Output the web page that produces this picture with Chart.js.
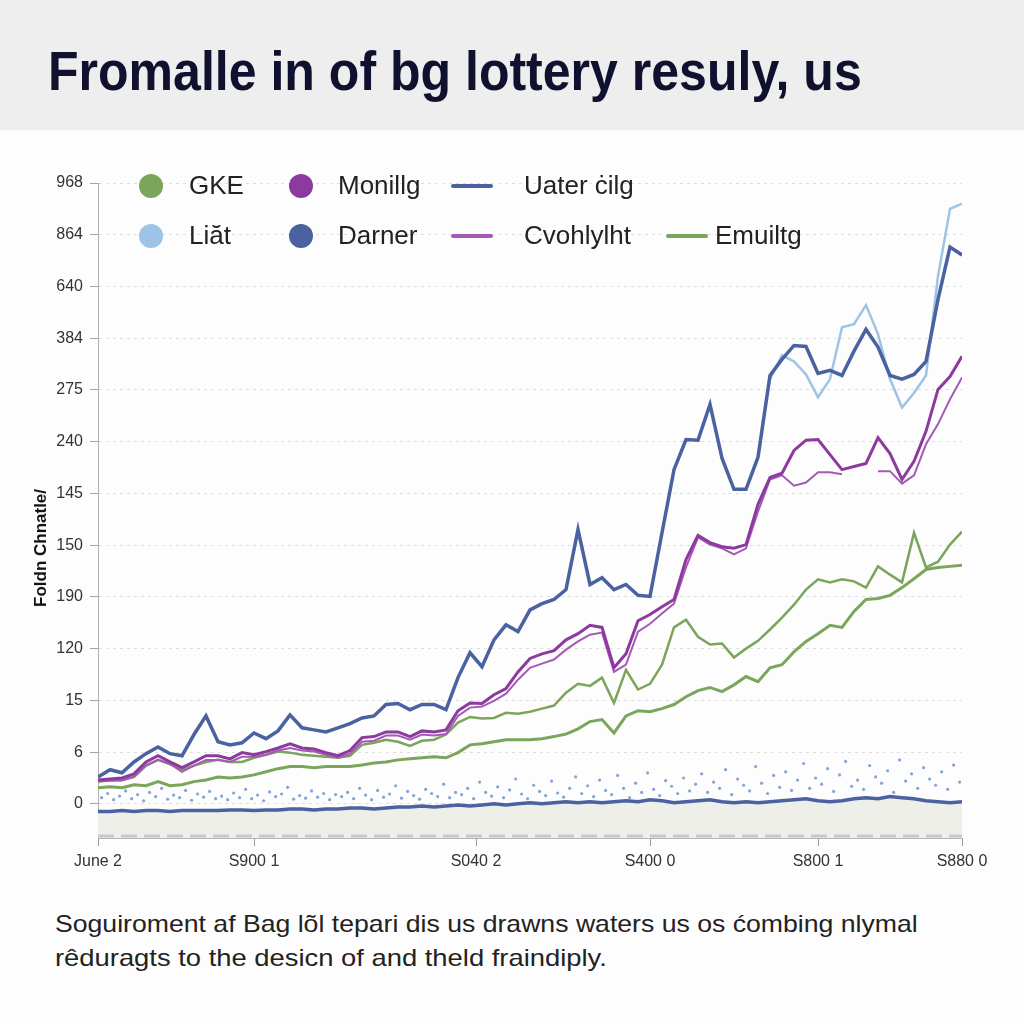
<!DOCTYPE html>
<html>
<head>
<meta charset="utf-8">
<script src="https://cdn.jsdelivr.net/npm/chart.js@4.4.0/dist/chart.umd.min.js"></script>
<style>
  body { margin: 0; width: 1024px; height: 1024px; background: #fdfdfd; position: relative; overflow: hidden;
         font-family: "Liberation Sans", Arial, sans-serif; }
  #band { position: absolute; left: 0; top: 0; width: 1024px; height: 130px; background: #eeeeee; }
  .fit { position: absolute; margin: 0; white-space: nowrap; display: inline-block; transform-origin: 0 0; line-height: 1; }
  #title { left: 48px; top: 43px; font-size: 56px; font-weight: 700; color: #10112e; }
  #foot1 { left: 55px; top: 912px; font-size: 24px; color: #222; }
  #foot2 { left: 55px; top: 946px; font-size: 24px; color: #222; }
  #chartBox { position: absolute; left: 0; top: 140px; width: 1024px; height: 740px; }
  #ytitle { position: absolute; left: 41px; top: 548px; transform: translate(-50%, -50%) rotate(-90deg);
            font-size: 17px; font-weight: 700; color: #111; white-space: nowrap; }
  .lg { position: absolute; font-size: 26px; color: #222; line-height: 1; white-space: nowrap; }
  .mk { position: absolute; }
</style>
</head>
<body>
<div id="band"></div>
<h1 id="title" class="fit">Fromalle in of bg lottery resuly, us</h1>
<div id="chartBox"><canvas id="chart" width="1024" height="740"></canvas></div>
<div id="ytitle">Foldn Chnatle/</div>
<div id="legend"></div>
<p id="foot1" class="fit">Soguiroment af Bag lõl tepari dis us drawns waters us os ćombing nlymal</p>
<p id="foot2" class="fit">rêduragts to the desicn of and theld fraindiply.</p>

<script>
// y axis tick labels (as printed, bottom to top)
const yTickLabels = ["0", "6", "15", "120", "190", "150", "145", "240", "275", "384", "640", "864", "968"];
// x axis tick labels and where they sit on the step axis
const xTickLabels = ["June 2", "S900 1", "S040 2", "S400 0", "S800 1", "S880 0"];
const xTickPos = [0, 13, 31.5, 46, 60, 72];

// series, one value per step (0..72), in axis units
const darner = [0.52,0.66,0.60,0.81,0.97,1.10,0.97,0.93,1.34,1.70,
  1.20,1.14,1.18,1.37,1.26,1.41,1.72,1.47,1.43,1.39,
  1.47,1.55,1.66,1.70,1.92,1.94,1.82,1.92,1.92,1.82,
  2.44,2.92,2.65,3.17,3.46,3.33,3.75,3.87,3.95,4.14,
  5.30,4.24,4.37,4.14,4.24,4.03,4.01,5.24,6.46,7.04,
  7.03,7.72,6.68,6.08,6.08,6.70,8.28,8.59,8.86,8.84,
  8.32,8.38,8.28,8.75,9.17,8.83,8.28,8.21,8.30,8.55,
  9.75,10.76,10.61];

const liatStart = 56;
const liat = [8.21,8.67,8.55,8.30,7.86,8.21,9.21,9.27,9.64,9.08,8.21,7.66,7.94,8.28,10.2,11.5,11.6];

const monillg = [0.46,0.48,0.50,0.58,0.81,0.93,0.81,0.70,0.81,0.93,
  0.93,0.87,0.99,0.95,1.01,1.08,1.16,1.08,1.06,0.99,
  0.93,1.03,1.28,1.30,1.39,1.39,1.30,1.41,1.39,1.43,
  1.80,1.95,1.94,2.11,2.23,2.55,2.81,2.90,2.96,3.17,
  3.29,3.45,3.41,2.63,2.90,3.54,3.66,3.81,3.95,4.72,
  5.19,5.05,4.97,4.94,5.01,5.79,6.31,6.39,6.83,7.03,
  7.04,6.75,6.46,6.52,6.58,7.08,6.77,6.27,6.62,7.20,
  8.01,8.26,8.65];

const cvohlylht = [0.43,0.45,0.45,0.52,0.74,0.85,0.77,0.62,0.74,0.85,
  0.85,0.81,0.91,0.91,0.95,1.03,1.08,1.03,1.01,0.95,
  0.89,0.97,1.20,1.22,1.32,1.32,1.24,1.34,1.32,1.35,
  1.70,1.86,1.88,1.99,2.13,2.40,2.63,2.71,2.79,2.98,
  3.14,3.27,3.31,2.55,2.69,3.33,3.48,3.68,3.87,4.57,
  5.15,5.01,4.94,4.82,4.94,5.65,6.27,6.35,6.15,6.21,
  6.41,6.41,6.37,null,null,6.43,6.43,6.19,6.35,6.95,
  7.34,7.82,8.24];

const gke = [0.43,0.45,0.46,0.52,0.74,0.85,0.77,0.66,0.74,0.81,
  0.85,0.81,0.81,0.89,0.95,1.01,0.99,0.95,0.93,0.91,
  0.89,0.93,1.14,1.18,1.24,1.20,1.12,1.22,1.24,1.34,
  1.57,1.68,1.65,1.66,1.76,1.74,1.78,1.84,1.90,2.15,
  2.32,2.28,2.44,1.95,2.59,2.21,2.32,2.69,3.41,3.56,
  3.23,3.08,3.10,2.83,3.00,3.15,3.37,3.60,3.85,4.14,
  4.34,4.28,4.34,4.30,4.18,4.59,4.43,4.28,5.24,4.57,
  4.68,5.01,5.26];

const emuiltg = [0.31,0.33,0.31,0.37,0.35,0.43,0.35,0.37,0.43,0.46,
  0.52,0.50,0.52,0.56,0.62,0.68,0.72,0.72,0.70,0.72,
  0.72,0.72,0.75,0.79,0.81,0.85,0.87,0.89,0.91,0.89,
  0.99,1.14,1.16,1.20,1.24,1.24,1.24,1.26,1.30,1.35,
  1.45,1.59,1.63,1.37,1.70,1.80,1.78,1.84,1.92,2.07,
  2.19,2.25,2.17,2.30,2.46,2.36,2.63,2.69,2.94,3.14,
  3.29,3.45,3.41,3.72,3.95,3.97,4.03,4.18,4.35,4.53,
  4.57,4.59,4.61];

const uater = [-0.15,-0.15,-0.13,-0.15,-0.13,-0.13,-0.15,-0.13,-0.13,
  -0.13,-0.13,-0.12,-0.12,-0.13,-0.12,-0.12,-0.10,-0.10,-0.12,-0.10,-0.10,
  -0.08,-0.08,-0.10,-0.08,-0.06,-0.06,-0.04,-0.06,-0.04,-0.02,-0.04,-0.02,
  0,-0.02,0,0.02,0,0.02,0.04,0.02,0.04,0.02,0.04,0.06,
  0.04,0.08,0.06,0.02,0.04,0.06,0.08,0.04,0.02,0.04,0.02,0.04,
  0.06,0.08,0.10,0.06,0.04,0.06,0.10,0.12,0.10,0.14,0.12,0.10,0.06,0.04,0.02,0.04];

// scattered light blue dots above the bottom line, one every half step from 0.3
const dotStart = 0.3;
const dots = [0.12,0.2,0.08,0.15,0.25,0.1,0.18,0.06,0.22,0.14,0.3,0.09,0.17,0.12,0.26,0.07,0.19,0.13,0.24,0.1,
  0.15,0.08,0.21,0.12,0.28,0.1,0.17,0.06,0.23,0.14,0.19,0.32,0.09,0.16,0.11,0.25,0.13,0.2,0.08,0.18,
  0.14,0.22,0.1,0.3,0.17,0.08,0.26,0.13,0.19,0.35,0.11,0.24,0.16,0.09,0.28,0.2,0.14,0.38,0.12,0.22,
  0.18,0.3,0.1,0.42,0.22,0.15,0.33,0.12,0.27,0.48,0.19,0.1,0.36,0.24,0.16,0.44,0.21,0.13,0.3,0.52,
  0.2,0.35,0.14,0.46,0.26,0.18,0.55,0.3,0.12,0.4,0.22,0.6,0.28,0.16,0.45,0.34,0.2,0.5,0.25,0.38,
  0.58,0.22,0.42,0.3,0.66,0.18,0.48,0.36,0.25,0.72,0.4,0.2,0.55,0.32,0.62,0.26,0.46,0.78,0.3,0.5,
  0.38,0.68,0.24,0.56,0.82,0.34,0.46,0.28,0.74,0.52,0.4,0.64,0.22,0.85,0.44,0.58,0.3,0.7,0.48,0.36,
  0.62,0.28,0.75,0.42];

const colors = {
  green: "#7aa55a",
  purple: "#8c3a9d",
  thinPurple: "#a45bb5",
  darkBlue: "#4a62a0",
  lightBlue: "#9dc4e6",
  dots: "rgba(110, 150, 205, 0.85)"
};

// legend: label, colour, marker type
const legendItems = [
  { label: "GKE", color: colors.green, type: "circle" },
  { label: "Monillg", color: colors.purple, type: "circle" },
  { label: "Uater ċilg", color: colors.darkBlue, type: "line" },
  { label: "Liăt", color: colors.lightBlue, type: "circle" },
  { label: "Darner", color: colors.darkBlue, type: "circle" },
  { label: "Cvohlylht", color: colors.thinPurple, type: "line" },
  { label: "Emuiltg", color: colors.green, type: "line" }
];
// marker left / text left / row centre, in page pixels
const legendLayout = [
  [139, 189, 186], [289, 338, 186], [451, 524, 186],
  [139, 189, 236], [289, 338, 236], [451, 524, 236], [666, 715, 236]
];

function toPoints(values, start) {
  return values.map((v, i) => ({ x: start + i, y: v }));
}

function buildLegend() {
  const box = document.getElementById("legend");
  legendItems.forEach((item, i) => {
    const [mx, tx, cy] = legendLayout[i];
    const mk = document.createElement("div");
    mk.className = "mk";
    if (item.type === "circle") {
      mk.style.cssText = `left:${mx}px;top:${cy - 12}px;width:24px;height:24px;border-radius:50%;background:${item.color}`;
    } else {
      mk.style.cssText = `left:${mx}px;top:${cy - 2}px;width:42px;height:4px;border-radius:2px;background:${item.color}`;
    }
    box.appendChild(mk);
    const tx_ = document.createElement("div");
    tx_.className = "lg";
    tx_.textContent = item.label;
    tx_.style.left = tx + "px";
    tx_.style.top = (cy - 14) + "px";
    box.appendChild(tx_);
  });
}

function fitWidth(id, target) {
  const el = document.getElementById(id);
  const w = el.scrollWidth;
  el.style.transform = `scaleX(${target / w})`;
}

// dashed band along the bottom of the plot
const bottomDash = {
  id: "bottomDash",
  afterDatasetsDraw(chart) {
    const { ctx, chartArea } = chart;
    ctx.save();
    ctx.strokeStyle = "#c9c9c9";
    ctx.lineWidth = 3;
    ctx.setLineDash([16, 7]);
    ctx.beginPath();
    ctx.moveTo(chartArea.left, chartArea.bottom - 2);
    ctx.lineTo(chartArea.right, chartArea.bottom - 2);
    ctx.stroke();
    ctx.restore();
  }
};

const ctx = document.getElementById("chart").getContext("2d");
new Chart(ctx, {
  type: "line",
  data: {
    datasets: [
      { label: "Darner", data: toPoints(darner, 0), borderColor: colors.darkBlue, borderWidth: 3.5, order: 1 },
      { label: "Liăt", data: toPoints(liat, liatStart), borderColor: colors.lightBlue, borderWidth: 2.5, order: 2 },
      { label: "Monillg", data: toPoints(monillg, 0), borderColor: colors.purple, borderWidth: 3, order: 3 },
      { label: "Cvohlylht", data: toPoints(cvohlylht, 0), borderColor: colors.thinPurple, borderWidth: 2, order: 4, spanGaps: false },
      { label: "GKE", data: toPoints(gke, 0), borderColor: colors.green, borderWidth: 2.5, order: 5 },
      { label: "Emuiltg", data: toPoints(emuiltg, 0), borderColor: colors.green, borderWidth: 3, order: 6 },
      { label: "Uater ċilg", data: toPoints(uater, 0), borderColor: colors.darkBlue, borderWidth: 3.5,
        fill: "start", backgroundColor: "#efefea", order: 8 },
      { type: "scatter", label: "Liăt", data: dots.map((v, i) => ({ x: dotStart + i * 0.5, y: v })),
        pointRadius: 1.6, pointBackgroundColor: colors.dots, pointBorderWidth: 0, showLine: false, order: 7 }
    ]
  },
  options: {
    responsive: false,
    animation: false,
    layout: { padding: { left: 0, right: 62, top: 43, bottom: 0 } },
    plugins: { legend: { display: false }, tooltip: { enabled: false } },
    elements: { point: { radius: 0 }, line: { tension: 0 } },
    scales: {
      x: {
        type: "linear",
        min: 0,
        max: 72,
        afterBuildTicks: axis => { axis.ticks = xTickPos.map(v => ({ value: v })); },
        afterFit: axis => { axis.height = 42; },
        grid: { drawOnChartArea: false, drawTicks: true, tickLength: 8, color: "#9a9a9a" },
        border: { color: "#b5b5b5", width: 1 },
        ticks: {
          callback: (v, i) => xTickLabels[i],
          color: "#333",
          font: { size: 16, family: "'Liberation Sans', Arial, sans-serif" },
          maxRotation: 0,
          autoSkip: false,
          padding: 6
        }
      },
      y: {
        min: -0.66,
        max: 12,
        afterBuildTicks: axis => { axis.ticks = yTickLabels.map((_, i) => ({ value: i })); },
        afterFit: axis => { axis.width = 98; },
        grid: { color: "#dedede", tickLength: 8, tickColor: "#a0a0a0" },
        border: { display: true, color: "#b0b0b0", width: 1, dash: [3, 4] },
        ticks: {
          callback: (v, i) => yTickLabels[i],
          color: "#333",
          font: { size: 16, family: "'Liberation Sans', Arial, sans-serif" },
          padding: 7
        }
      }
    }
  },
  plugins: [bottomDash]
});

buildLegend();
fitWidth("title", 814);
fitWidth("foot1", 863);
fitWidth("foot2", 552);
</script>
</body>
</html>
